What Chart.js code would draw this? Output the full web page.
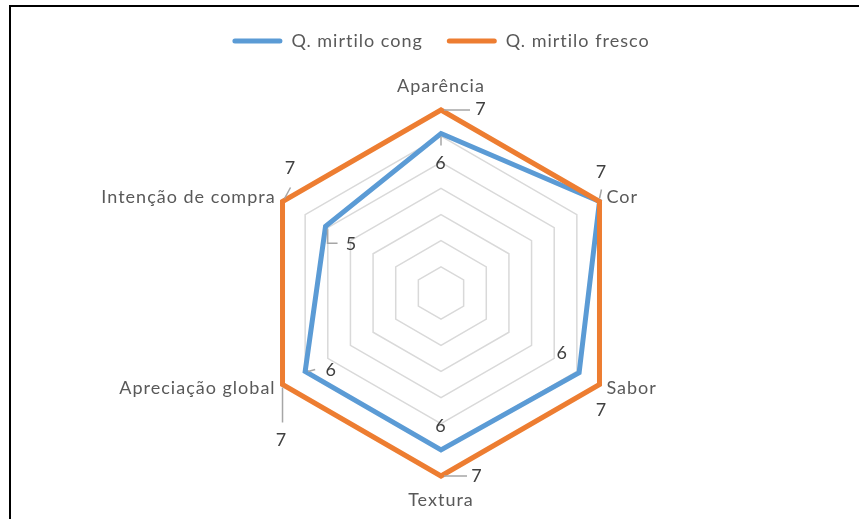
<!DOCTYPE html>
<html>
<head>
<meta charset="utf-8">
<script src="https://cdn.jsdelivr.net/npm/chart.js@4"></script>
<style>
    html, body { margin: 0; padding: 0; background: #fff; overflow: hidden; }
    #wrap { position: relative; width: 859px; height: 519px; }
    #frame { position: absolute; left: 9px; top: 5px; right: 0; bottom: 0; border-top: 2px solid #000; border-left: 2px solid #000; pointer-events: none; }
</style>
</head>
<body>
<div id="wrap">
    <canvas id="myChart" width="859" height="519"></canvas>
    <div id="frame"></div>
</div>
<script>
const categories = ['Aparência', 'Cor', 'Sabor', 'Textura', 'Apreciação global', 'Intenção de compra']
const seriesNames = ['Q. mirtilo cong', 'Q. mirtilo fresco']
const congValues = [6.1, 7, 6.1, 6.0, 6.0, 5.1]
const frescoValues = [7, 7, 7, 7, 7, 7]
const scaleMin = 0
const scaleMax = 7
const scaleStep = 1

const FONT = 'Lato'
const FONT_SIZE = 18
const SPACING = '1px'

// where each data label sits relative to its point, and its leader line
const labelLayout = [
    {
        offsets: [[0, 30], null, [-17, -20], [0, -24], [26, -1], [26, 18]],
        leaders: [[[0, 3], [0, 12]], null, null, null, [[3, 0], [10, -2]], [[2, 3], [2, 17], [12, 17]]]
    },
    {
        offsets: [[40, -1], [2, -29], [2, 26], [36, 0], [-1, 56], [8, -33]],
        leaders: [[[3, 0], [29, 0]], [[0, -3], [2, -12]], null, [[3, 0], [26, 0]], [[0, 3], [0, 38]], [[2, -3], [8, -14]]]
    }
]

// excel text is a bit wider spaced than Lato
const letterSpacing = {
    id: 'letterSpacing',
    beforeLayout(chart) { chart.ctx.letterSpacing = SPACING },
    beforeDraw(chart) { chart.ctx.letterSpacing = SPACING }
}

const radarLabels = {
    id: 'radarLabels',
    afterDatasetsDraw(chart) {
        const ctx = chart.ctx
        const scale = chart.scales.r
        const outer = scale.getDistanceFromCenterForValue(scale.max)
        ctx.save()
        ctx.font = `${FONT_SIZE}px ${FONT}`
        ctx.letterSpacing = SPACING
        ctx.textBaseline = 'middle'

        // category names round the web
        categories.forEach((name, i) => {
            const deg = Math.round(i * 360 / categories.length)
            const vertical = deg === 0 || deg === 180
            const p = scale.getPointPosition(i, outer + (vertical ? 24 : 8))
            ctx.textAlign = vertical ? 'center' : deg < 180 ? 'left' : 'right'
            ctx.fillStyle = '#595959'
            ctx.fillText(name, p.x, p.y)
        })

        // value labels with leader lines
        chart.data.datasets.forEach((ds, d) => {
            const meta = chart.getDatasetMeta(d)
            const layout = labelLayout[d]
            meta.data.forEach((pt, i) => {
                const leader = layout.leaders[i]
                if (leader) {
                    ctx.beginPath()
                    ctx.strokeStyle = '#a6a6a6'
                    ctx.lineWidth = 1.5
                    leader.forEach(([lx, ly], k) => {
                        if (k) ctx.lineTo(pt.x + lx, pt.y + ly)
                        else ctx.moveTo(pt.x + lx, pt.y + ly)
                    })
                    ctx.stroke()
                }
                const off = layout.offsets[i]
                if (!off) return
                ctx.textAlign = 'center'
                ctx.fillStyle = '#404040'
                ctx.fillText(String(Math.round(ds.data[i])), pt.x + off[0], pt.y + off[1])
            })
        })
        ctx.restore()
    }
}

const ctx = document.getElementById('myChart').getContext('2d')
const chart = new Chart(ctx, {
    type: 'radar',
    data: {
        labels: categories,
        datasets: [
            {
                label: seriesNames[0],
                data: congValues,
                borderColor: '#5b9bd5',
                backgroundColor: '#5b9bd5',
                borderWidth: 5,
                fill: false,
                pointRadius: 0,
                pointHoverRadius: 0,
                order: 1
            },
            {
                label: seriesNames[1],
                data: frescoValues,
                borderColor: '#ed7d31',
                backgroundColor: '#ed7d31',
                borderWidth: 5,
                fill: false,
                pointRadius: 0,
                pointHoverRadius: 0,
                order: 0
            }
        ]
    },
    options: {
        responsive: false,
        animation: false,
        clip: false,
        layout: {
            padding: { top: 8, left: 23, right: 0, bottom: 43 }
        },
        scales: {
            r: {
                min: scaleMin,
                max: scaleMax,
                ticks: { display: false, stepSize: scaleStep },
                grid: { color: '#d9d9d9', lineWidth: 1.5 },
                angleLines: { display: false },
                pointLabels: { display: false }
            }
        },
        plugins: {
            legend: {
                position: 'top',
                labels: {
                    boxWidth: 50,
                    boxHeight: 5,
                    padding: 24,
                    color: '#595959',
                    font: { family: FONT, size: FONT_SIZE },
                    useBorderRadius: true,
                    borderRadius: 2.5,
                    sort: (a, b) => a.datasetIndex - b.datasetIndex,
                    generateLabels: c => Chart.defaults.plugins.legend.labels.generateLabels(c)
                        .map(item => ({ ...item, lineWidth: 0 }))
                }
            },
            // empty title used as a gap between the legend and the web
            title: {
                display: true,
                text: '',
                weight: 500,
                font: { size: 10, lineHeight: 1 },
                padding: { top: 0, bottom: 40 }
            },
            tooltip: { enabled: false }
        }
    },
    plugins: [letterSpacing, radarLabels]
})
</script>
</body>
</html>
